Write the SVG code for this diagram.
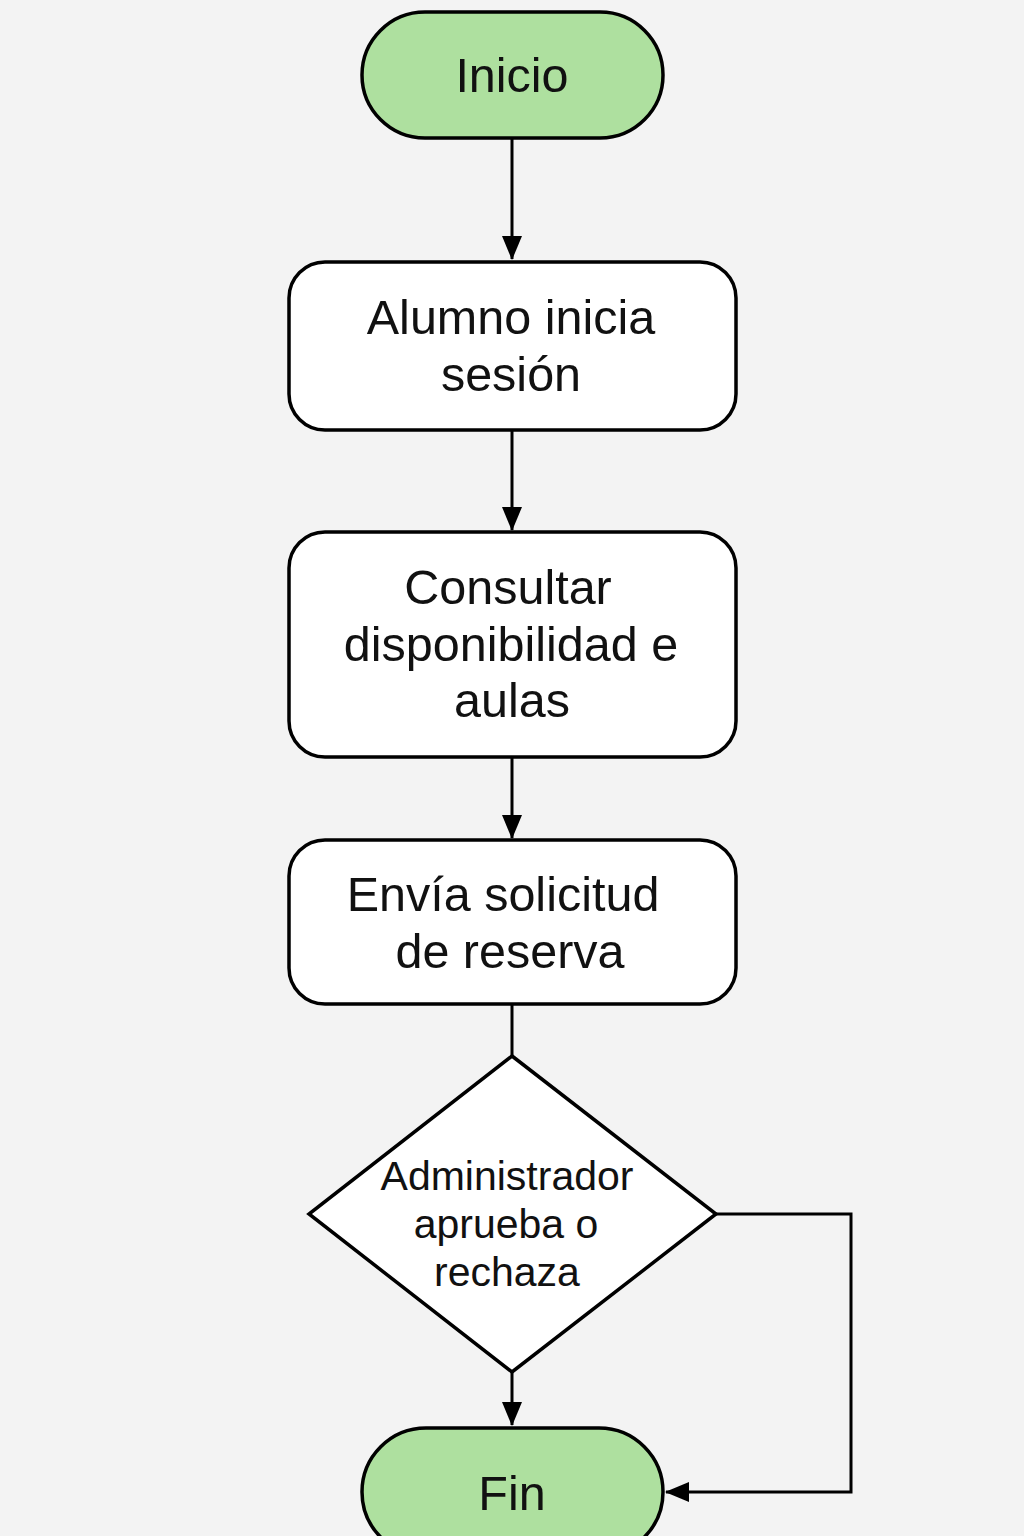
<svg xmlns="http://www.w3.org/2000/svg" width="1024" height="1536" viewBox="0 0 1024 1536">
<defs>
<style>
.term{fill:#aee09f;stroke:#000;stroke-width:3.5}
.box{fill:#fff;stroke:#000;stroke-width:3.5}
.t{font-family:"Liberation Sans",Arial,sans-serif;fill:#111;text-anchor:middle}
.big{font-size:48.5px}
.mid{font-size:41px}
.c{fill:none;stroke:#000;stroke-width:3}
</style>
<marker id="a" viewBox="0 0 24 24" refX="23" refY="12" markerWidth="24" markerHeight="24" orient="auto" markerUnits="userSpaceOnUse">
<path d="M0,2 L24,12 L0,22 z" fill="#000"/>
</marker>
</defs>
<rect width="1024" height="1536" fill="#f3f3f3"/>
<g id="connectors">
<line class="c" x1="512" y1="138" x2="512" y2="259" marker-end="url(#a)"/>
<line class="c" x1="512" y1="430" x2="512" y2="530" marker-end="url(#a)"/>
<line class="c" x1="512" y1="757" x2="512" y2="838" marker-end="url(#a)"/>
<line class="c" x1="512" y1="1004" x2="512" y2="1056"/>
<line class="c" x1="512" y1="1372" x2="512" y2="1425" marker-end="url(#a)"/>
<polyline class="c" points="716,1214 851,1214 851,1492 666,1492" marker-end="url(#a)"/>
</g>
<g id="inicio">
<rect class="term" x="362" y="12" width="301" height="126" rx="63"/>
<text class="t big" x="512" y="92">Inicio</text>
</g>
<g id="alumno">
<rect class="box" x="289" y="262" width="447" height="168" rx="36"/>
<text class="t big" x="511" y="334">Alumno inicia</text>
<text class="t big" x="511" y="391">sesión</text>
</g>
<g id="consultar">
<rect class="box" x="289" y="532" width="447" height="225" rx="36"/>
<text class="t big" x="508" y="604">Consultar</text>
<text class="t big" x="511" y="661">disponibilidad e</text>
<text class="t big" x="512" y="717">aulas</text>
</g>
<g id="envia">
<rect class="box" x="289" y="840" width="447" height="164" rx="36"/>
<text class="t big" x="503" y="911">Envía solicitud</text>
<text class="t big" x="510" y="968">de reserva</text>
</g>
<g id="decision">
<polygon class="box" points="512,1056 716,1214 512,1372 309,1214"/>
<text class="t mid" x="507" y="1190">Administrador</text>
<text class="t mid" x="506" y="1238">aprueba o</text>
<text class="t mid" x="507" y="1286">rechaza</text>
</g>
<g id="fin">
<rect class="term" x="362" y="1428" width="301" height="128" rx="64"/>
<text class="t big" x="512" y="1510">Fin</text>
</g>
</svg>
